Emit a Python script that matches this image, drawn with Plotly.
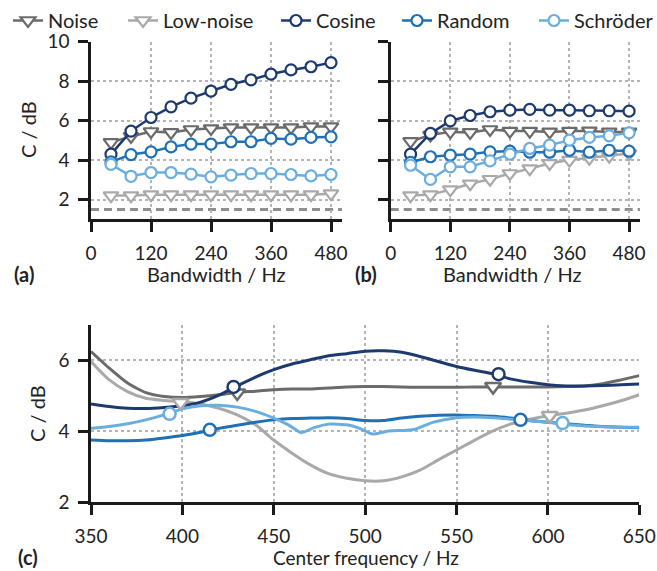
import plotly.graph_objects as go

# ---------------- data ----------------
series_names = ["Noise", "Low-noise", "Cosine", "Random", "Schröder"]
series_colors = ["#6b6b6b", "#a9a9a9", "#1c3a70", "#1f70b5", "#6aaee0"]
series_symbols = ["triangle-down", "triangle-down", "circle", "circle", "circle"]

bandwidth = [40, 80, 120, 160, 200, 240, 280, 320, 360, 400, 440, 480]

a_noise = [4.9, 5.2, 5.45, 5.4, 5.55, 5.6, 5.65, 5.65, 5.65, 5.65, 5.7, 5.7]
a_lownoise = [2.2, 2.2, 2.25, 2.25, 2.25, 2.25, 2.25, 2.25, 2.25, 2.25, 2.25, 2.3]
a_cosine = [4.3, 5.47, 6.16, 6.7, 7.14, 7.5, 7.84, 8.07, 8.36, 8.57, 8.73, 8.94]
a_random = [3.91, 4.28, 4.42, 4.67, 4.81, 4.81, 4.93, 4.93, 5.1, 5.06, 5.15, 5.18]
a_schroeder = [3.78, 3.18, 3.37, 3.37, 3.29, 3.15, 3.24, 3.32, 3.32, 3.27, 3.2, 3.27]

b_noise = [4.95, 5.27, 5.43, 5.4, 5.55, 5.47, 5.47, 5.43, 5.47, 5.48, 5.43, 5.43]
b_lownoise = [2.2, 2.25, 2.5, 2.8, 3.03, 3.32, 3.57, 3.83, 4.0, 4.1, 4.2, 4.33]
b_cosine = [4.3, 5.35, 5.99, 6.26, 6.45, 6.53, 6.57, 6.53, 6.53, 6.5, 6.5, 6.48]
b_random = [3.88, 4.17, 4.25, 4.3, 4.42, 4.45, 4.4, 4.4, 4.5, 4.4, 4.5, 4.45]
b_schroeder = [3.74, 3.02, 3.66, 3.66, 3.96, 4.3, 4.59, 4.76, 5.01, 5.15, 5.23, 5.38]

threshold_db = 1.5

center_freq = [350, 360, 370, 380, 390, 400, 410, 420, 430, 440, 450, 460, 470, 480,
               490, 500, 510, 520, 530, 540, 550, 560, 570, 580, 590, 600, 610, 620,
               630, 640, 650]
c_noise = [6.25, 5.78, 5.36, 5.09, 4.98, 4.95, 4.98, 5.03, 5.1, 5.13, 5.17, 5.19, 5.19,
           5.22, 5.25, 5.26, 5.26, 5.25, 5.24, 5.24, 5.24, 5.25, 5.25, 5.25, 5.25, 5.25,
           5.26, 5.28, 5.34, 5.45, 5.57]
c_lownoise = [5.97, 5.45, 5.12, 4.93, 4.87, 4.83, 4.77, 4.65, 4.46, 4.18, 3.75, 3.38,
              3.05, 2.8, 2.67, 2.6, 2.6, 2.71, 2.9, 3.19, 3.47, 3.75, 4.01, 4.21, 4.34,
              4.43, 4.51, 4.6, 4.72, 4.86, 5.03]
c_cosine = [4.77, 4.7, 4.65, 4.64, 4.67, 4.72, 4.82, 5.02, 5.28, 5.53, 5.74, 5.9, 6.02,
            6.13, 6.19, 6.26, 6.27, 6.23, 6.11, 5.97, 5.83, 5.72, 5.62, 5.47, 5.38, 5.31,
            5.28, 5.28, 5.29, 5.31, 5.33]
c_random = [3.75, 3.73, 3.73, 3.75, 3.81, 3.88, 3.97, 4.08, 4.17, 4.25, 4.32, 4.36, 4.37,
            4.38, 4.36, 4.3, 4.3, 4.37, 4.42, 4.45, 4.46, 4.44, 4.42, 4.37, 4.3, 4.25,
            4.21, 4.17, 4.13, 4.11, 4.1]
schroeder_freq = [350, 360, 370, 380, 390, 400, 410, 420, 430, 440, 450, 458, 465, 472,
                  480, 490, 497, 504, 512, 527, 537, 550, 560, 570, 580, 590, 600, 610,
                  620, 635, 650]
c_schroeder = [4.08, 4.13, 4.21, 4.32, 4.46, 4.63, 4.72, 4.73, 4.68, 4.56, 4.37, 4.18,
               3.96, 4.1, 4.2, 4.18, 4.08, 3.92, 4.0, 4.05, 4.25, 4.38, 4.4, 4.38, 4.34,
               4.3, 4.25, 4.19, 4.15, 4.12, 4.11]

# marker positions on panel (c) curves
c_mark_freq = {
    "Noise": [430, 570], "Low-noise": [399, 601], "Cosine": [428, 573],
    "Random": [415, 585], "Schröder": [393, 608],
}
c_mark_val = {
    "Noise": [5.08, 5.26], "Low-noise": [4.81, 4.44], "Cosine": [5.25, 5.61],
    "Random": [4.04, 4.32], "Schröder": [4.49, 4.23],
}

a_data = [a_noise, a_lownoise, a_cosine, a_random, a_schroeder]
b_data = [b_noise, b_lownoise, b_cosine, b_random, b_schroeder]
c_x = [center_freq, center_freq, center_freq, center_freq, schroeder_freq]
c_data = [c_noise, c_lownoise, c_cosine, c_random, c_schroeder]

# ---------------- figure ----------------
W, H = 657, 571
FONT = "Lato"
TXT = "#222222"
AX = "#1a1a1a"
GRID = "#b4b4b4"

fig = go.Figure()
legend_ids = ["legend", "legend2", "legend3", "legend4", "legend5"]
legend_left_px = [8, 123, 276, 397, 534]


def msize(sym):
    return 13 if sym.startswith("triangle") else 11


for i, name in enumerate(series_names):
    col, sym = series_colors[i], series_symbols[i]
    fig.add_trace(go.Scatter(
        x=bandwidth, y=a_data[i], name=name, mode="lines+markers",
        line=dict(color=col, width=2.5),
        marker=dict(symbol=sym, size=msize(sym), color="white", line=dict(color=col, width=2.2)),
        xaxis="x", yaxis="y", showlegend=True, legend=legend_ids[i],
        legendgroup=name, cliponaxis=False))
for i, name in enumerate(series_names):
    col, sym = series_colors[i], series_symbols[i]
    fig.add_trace(go.Scatter(
        x=bandwidth, y=b_data[i], name=name, mode="lines+markers",
        line=dict(color=col, width=2.5),
        marker=dict(symbol=sym, size=msize(sym), color="white", line=dict(color=col, width=2.2)),
        xaxis="x2", yaxis="y2", showlegend=False, legendgroup=name, cliponaxis=False))
for i, name in enumerate(series_names):
    col = series_colors[i]
    fig.add_trace(go.Scatter(
        x=c_x[i], y=c_data[i], name=name, mode="lines",
        line=dict(color=col, width=3, shape="spline", smoothing=0.6),
        xaxis="x3", yaxis="y3", showlegend=False, legendgroup=name))
for i, name in enumerate(series_names):
    col, sym = series_colors[i], series_symbols[i]
    fig.add_trace(go.Scatter(
        x=c_mark_freq[name], y=c_mark_val[name], name=name, mode="markers",
        marker=dict(symbol=sym, size=msize(sym) + 1, color="white", line=dict(color=col, width=2.5)),
        xaxis="x3", yaxis="y3", showlegend=False, legendgroup=name))

# dashed threshold line on (a) and (b)
for xr, yr in (("x", "y"), ("x2", "y2")):
    fig.add_shape(type="line", xref=f"{xr} domain", yref=yr, x0=0, x1=1,
                  y0=threshold_db, y1=threshold_db,
                  line=dict(color="#8f8f8f", width=3, dash="8px,5px"), layer="below")


def px_x(p):
    return p / W


def px_y(p):
    return (H - p) / H


common_axis = dict(showline=True, linecolor=AX, linewidth=2.5, ticks="outside",
                   ticklen=10, tickwidth=2.5, tickcolor=AX, showgrid=True,
                   gridcolor=GRID, gridwidth=1.5, griddash="dot", zeroline=False,
                   automargin=False,
                   tickfont=dict(family=FONT, size=19, color=TXT), ticklabelstandoff=5)

bw_ticks = [0, 120, 240, 360, 480]
legend_common = dict(orientation="h", xanchor="left", yanchor="middle",
                     font=dict(family=FONT, size=20, color=TXT), itemwidth=30,
                     bgcolor="rgba(0,0,0,0)", borderwidth=0)
legends = {}
for lid, lx in zip(legend_ids, legend_left_px):
    legends[lid] = dict(x=px_x(lx), y=px_y(20.5), **legend_common)

fig.update_layout(
    template="none",
    width=W, height=H, margin=dict(l=0, r=0, t=0, b=0, autoexpand=False),
    paper_bgcolor="white", plot_bgcolor="white",
    font=dict(family=FONT, size=19, color=TXT),
    xaxis=dict(domain=[px_x(91), px_x(342)], range=[0, 502], tickvals=bw_ticks,
               anchor="y", **common_axis),
    yaxis=dict(domain=[px_y(219.3), px_y(41.7)], range=[1, 10], tickvals=[2, 4, 6, 8, 10],
               anchor="x", **common_axis),
    xaxis2=dict(domain=[px_x(390.7), px_x(640)], range=[0, 502], tickvals=bw_ticks,
                anchor="y2", **common_axis),
    yaxis2=dict(domain=[px_y(219.3), px_y(41.7)], range=[1, 10], tickvals=[2, 4, 6, 8, 10],
                showticklabels=False, anchor="x2", **common_axis),
    xaxis3=dict(domain=[px_x(91), px_x(639.3)], range=[350, 650],
                tickvals=[350, 400, 450, 500, 550, 600, 650], anchor="y3", **common_axis),
    yaxis3=dict(domain=[px_y(502), px_y(325)], range=[2, 7], tickvals=[2, 4, 6],
                anchor="x3", **common_axis),
    showlegend=True,
    **legends,
)


def ann(text, x, y, angle=0, bold=False, size=20):
    fig.add_annotation(text=f"<b>{text}</b>" if bold else text, x=px_x(x), y=px_y(y),
                       xref="paper", yref="paper", showarrow=False, textangle=angle,
                       xanchor="center", yanchor="middle",
                       font=dict(family=FONT, size=size, color=TXT))


ann("C / dB", 28, 130, angle=-90)
ann("C / dB", 37, 414, angle=-90)
ann("(a)", 24, 274, bold=True)
ann("(b)", 366, 274, bold=True)
ann("(c)", 28, 557, bold=True)
ann("Bandwidth / Hz", 216, 274)
ann("Bandwidth / Hz", 512, 274)
ann("Center frequency / Hz", 366, 557, size=19)

fig.write_html(
    "out.html",
    config={"displayModeBar": False},
    post_script="document.body.style.margin='0';document.body.style.overflow='hidden';",
)
